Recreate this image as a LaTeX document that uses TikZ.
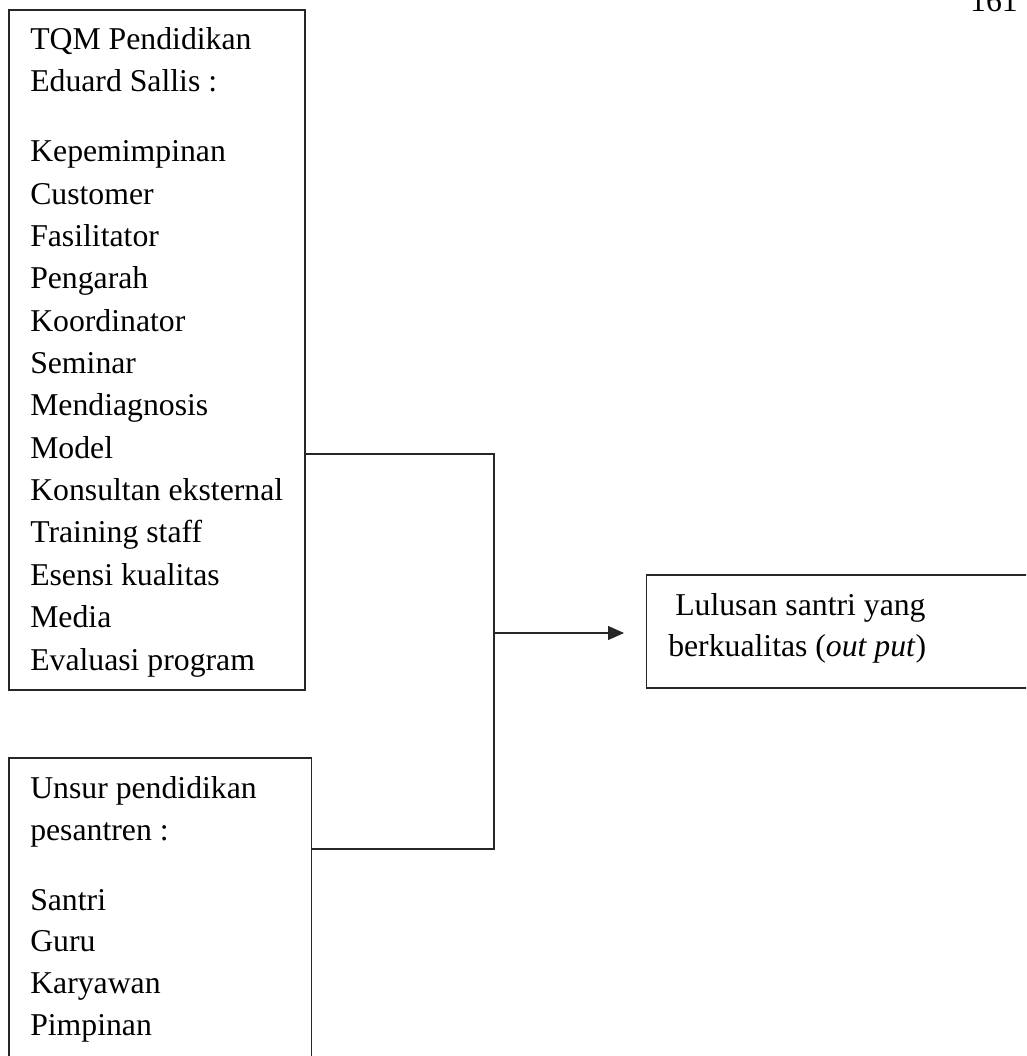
\documentclass[tikz,border=0pt]{standalone}
\usepackage{fontspec}
\setmainfont{Liberation Serif}
\usetikzlibrary{arrows.meta}

\tikzset{
  box/.style={draw=black!85, line width=0.8pt, inner sep=0pt, outer sep=0pt, anchor=north west},
  link/.style={draw=black!85, line width=0.8pt},
  entry/.style={anchor=base west, inner sep=0pt, font=\fontsize{23.8pt}{31pt}\selectfont},
}

\begin{document}
\begin{tikzpicture}[x=0.75pt,y=-0.75pt]
\clip (0,0) rectangle (1026,1056);
% kotak
\node[box, minimum width=222pt, minimum height=510pt] (tqm) at (9,10) {};
\node[box, minimum width=227pt, minimum height=240pt] (unsur) at (9,758) {};
\node[box, minimum width=300pt, minimum height=84.75pt] (hasil) at (646.7,575) {};

% isi kotak TQM
\node[entry] (tqmhead1) at (30,50) {TQM Pendidikan};
\node[entry] (tqmhead2) at (30,92) {Eduard Sallis :};
\foreach \name [count=\i from 0] in {Kepemimpinan, Customer, Fasilitator, Pengarah,
    Koordinator, Seminar, Mendiagnosis, Model, Konsultan eksternal, Training staff,
    Esensi kualitas, Media, Evaluasi program}
  \node[entry] (tqm-\i) at (30,161.7+42.36*\i) {\name};

% isi kotak unsur
\node[entry] (unsurhead1) at (30,798) {Unsur pendidikan};
\node[entry] (unsurhead2) at (30,840) {pesantren :};
\foreach \name [count=\i from 0] in {Santri, Guru, Karyawan, Pimpinan}
  \node[entry] (unsur-\i) at (30,910+41.7*\i) {\name};

% output
\node[entry] (hasil1) at (675,615) {Lulusan santri yang};
\node[entry] (hasil2) at (668,656.7) {berkualitas (\textit{out put})};

\node[entry, anchor=base east] (page) at (1018,12) {161};

% garis penghubung
\coordinate (tqmport) at (305,454);
\coordinate (unsurport) at (311.7,849);
\coordinate (merge) at (494,633);
\draw[link] (tqmport) -| (merge) |- (unsurport);
\draw[link, -{Triangle[length=12pt,width=10.5pt]}, shorten >=17pt] (merge) -- (merge -| hasil.west);
\end{tikzpicture}
\end{document}
